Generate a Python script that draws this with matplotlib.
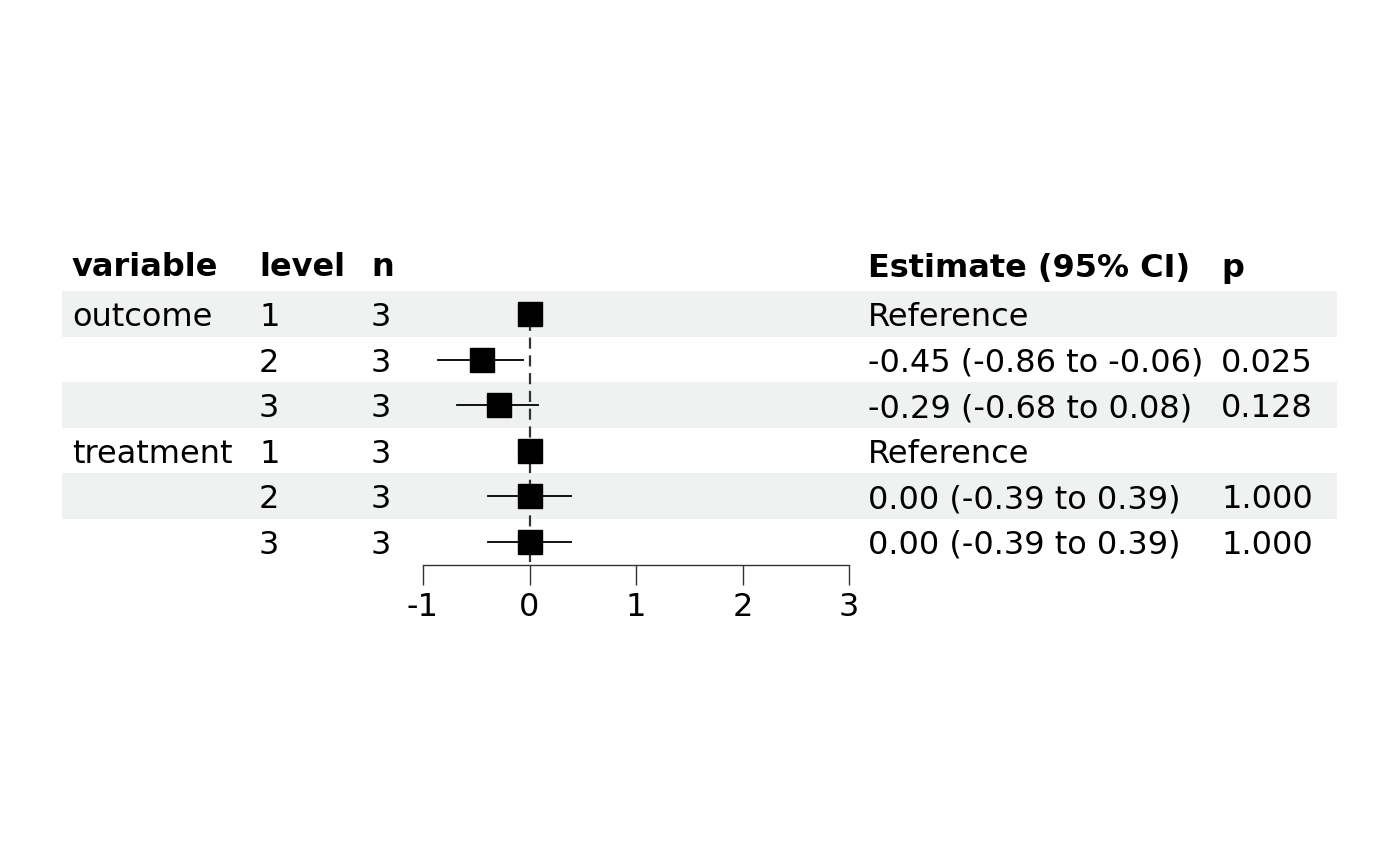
import matplotlib
matplotlib.use("Agg")
import matplotlib.pyplot as plt
from matplotlib.patches import Rectangle

plt.rcParams['font.family'] = ['DejaVu Sans']
plt.rcParams['axes.unicode_minus'] = False

# ---- data ----
headers = ["variable", "level", "n", "Estimate (95% CI)", "p"]
variables = ["outcome", "", "", "treatment", "", ""]
levels = ["1", "2", "3", "1", "2", "3"]
ns = ["3", "3", "3", "3", "3", "3"]
estimates = [0.00, -0.45, -0.29, 0.00, 0.00, 0.00]
ci_low = [None, -0.86, -0.68, None, -0.39, -0.39]
ci_high = [None, -0.06, 0.08, None, 0.39, 0.39]
est_labels = ["Reference", "-0.45 (-0.86 to -0.06)", "-0.29 (-0.68 to 0.08)",
              "Reference", "0.00 (-0.39 to 0.39)", "0.00 (-0.39 to 0.39)"]
p_labels = ["", "0.025", "0.128", "", "1.000", "1.000"]
x_ticks = [-1, 0, 1, 2, 3]

W, H = 1400, 866
FS = 23
fig = plt.figure(figsize=(W / 100, H / 100), dpi=100)

# table layer in pixel coordinates
axt = fig.add_axes([0, 0, 1, 1])
axt.set_xlim(0, W)
axt.set_ylim(H, 0)
axt.axis('off')

row0 = 314.2
pitch = 45.5
band_left, band_right = 62, 1337
band_col = '#eff2f1'
for i in range(len(levels)):
    if i % 2 == 0:
        axt.add_patch(Rectangle((band_left, row0 - pitch / 2 + i * pitch),
                                band_right - band_left, pitch,
                                facecolor=band_col, edgecolor='none', zorder=0))

col_x = [72, 259, 371, 868, 1221]
header_base = 276.5
for x, h in zip(col_x, headers):
    axt.text(x, header_base, h, fontsize=FS, fontweight='bold', va='baseline', ha='left')

cols = [variables, levels, ns, est_labels, p_labels]
for i in range(len(levels)):
    yb = row0 + i * pitch + 12.0
    for x, col in zip(col_x, cols):
        if col[i]:
            axt.text(x, yb, col[i], fontsize=FS, va='baseline', ha='left')

# forest plot axes
x_left_px, x_right_px = 423, 849
axis_px = 565
top_px = row0 - pitch / 2
axf = fig.add_axes([x_left_px / W, (H - axis_px) / H,
                    (x_right_px - x_left_px) / W, (axis_px - top_px) / H])
axf.patch.set_alpha(0)
axf.set_xlim(-1, 3)
nrows = len(levels)
axf.set_ylim((axis_px - row0) / pitch, -0.5)

axf.axvline(0, ymin=0.01, ymax=0.98, color='#333333', lw=1.6, ls=(0, (5, 3)), zorder=1)
for i in range(nrows):
    if ci_low[i] is not None:
        axf.plot([ci_low[i], ci_high[i]], [i, i], color='black', lw=1.3, zorder=2)
    axf.plot(estimates[i], i, marker='s', color='black', markersize=17.5, zorder=3)

for s in ['top', 'right', 'left']:
    axf.spines[s].set_visible(False)
axf.spines['bottom'].set_color('#333333')
axf.spines['bottom'].set_linewidth(1.0)
axf.set_yticks([])
axf.set_xticks(x_ticks)
axf.set_xticklabels([str(t) for t in x_ticks])
axf.tick_params(axis='x', length=14.5, width=1.0, color='#333333', labelsize=FS, pad=5)

fig.savefig("out.png", dpi=100)
